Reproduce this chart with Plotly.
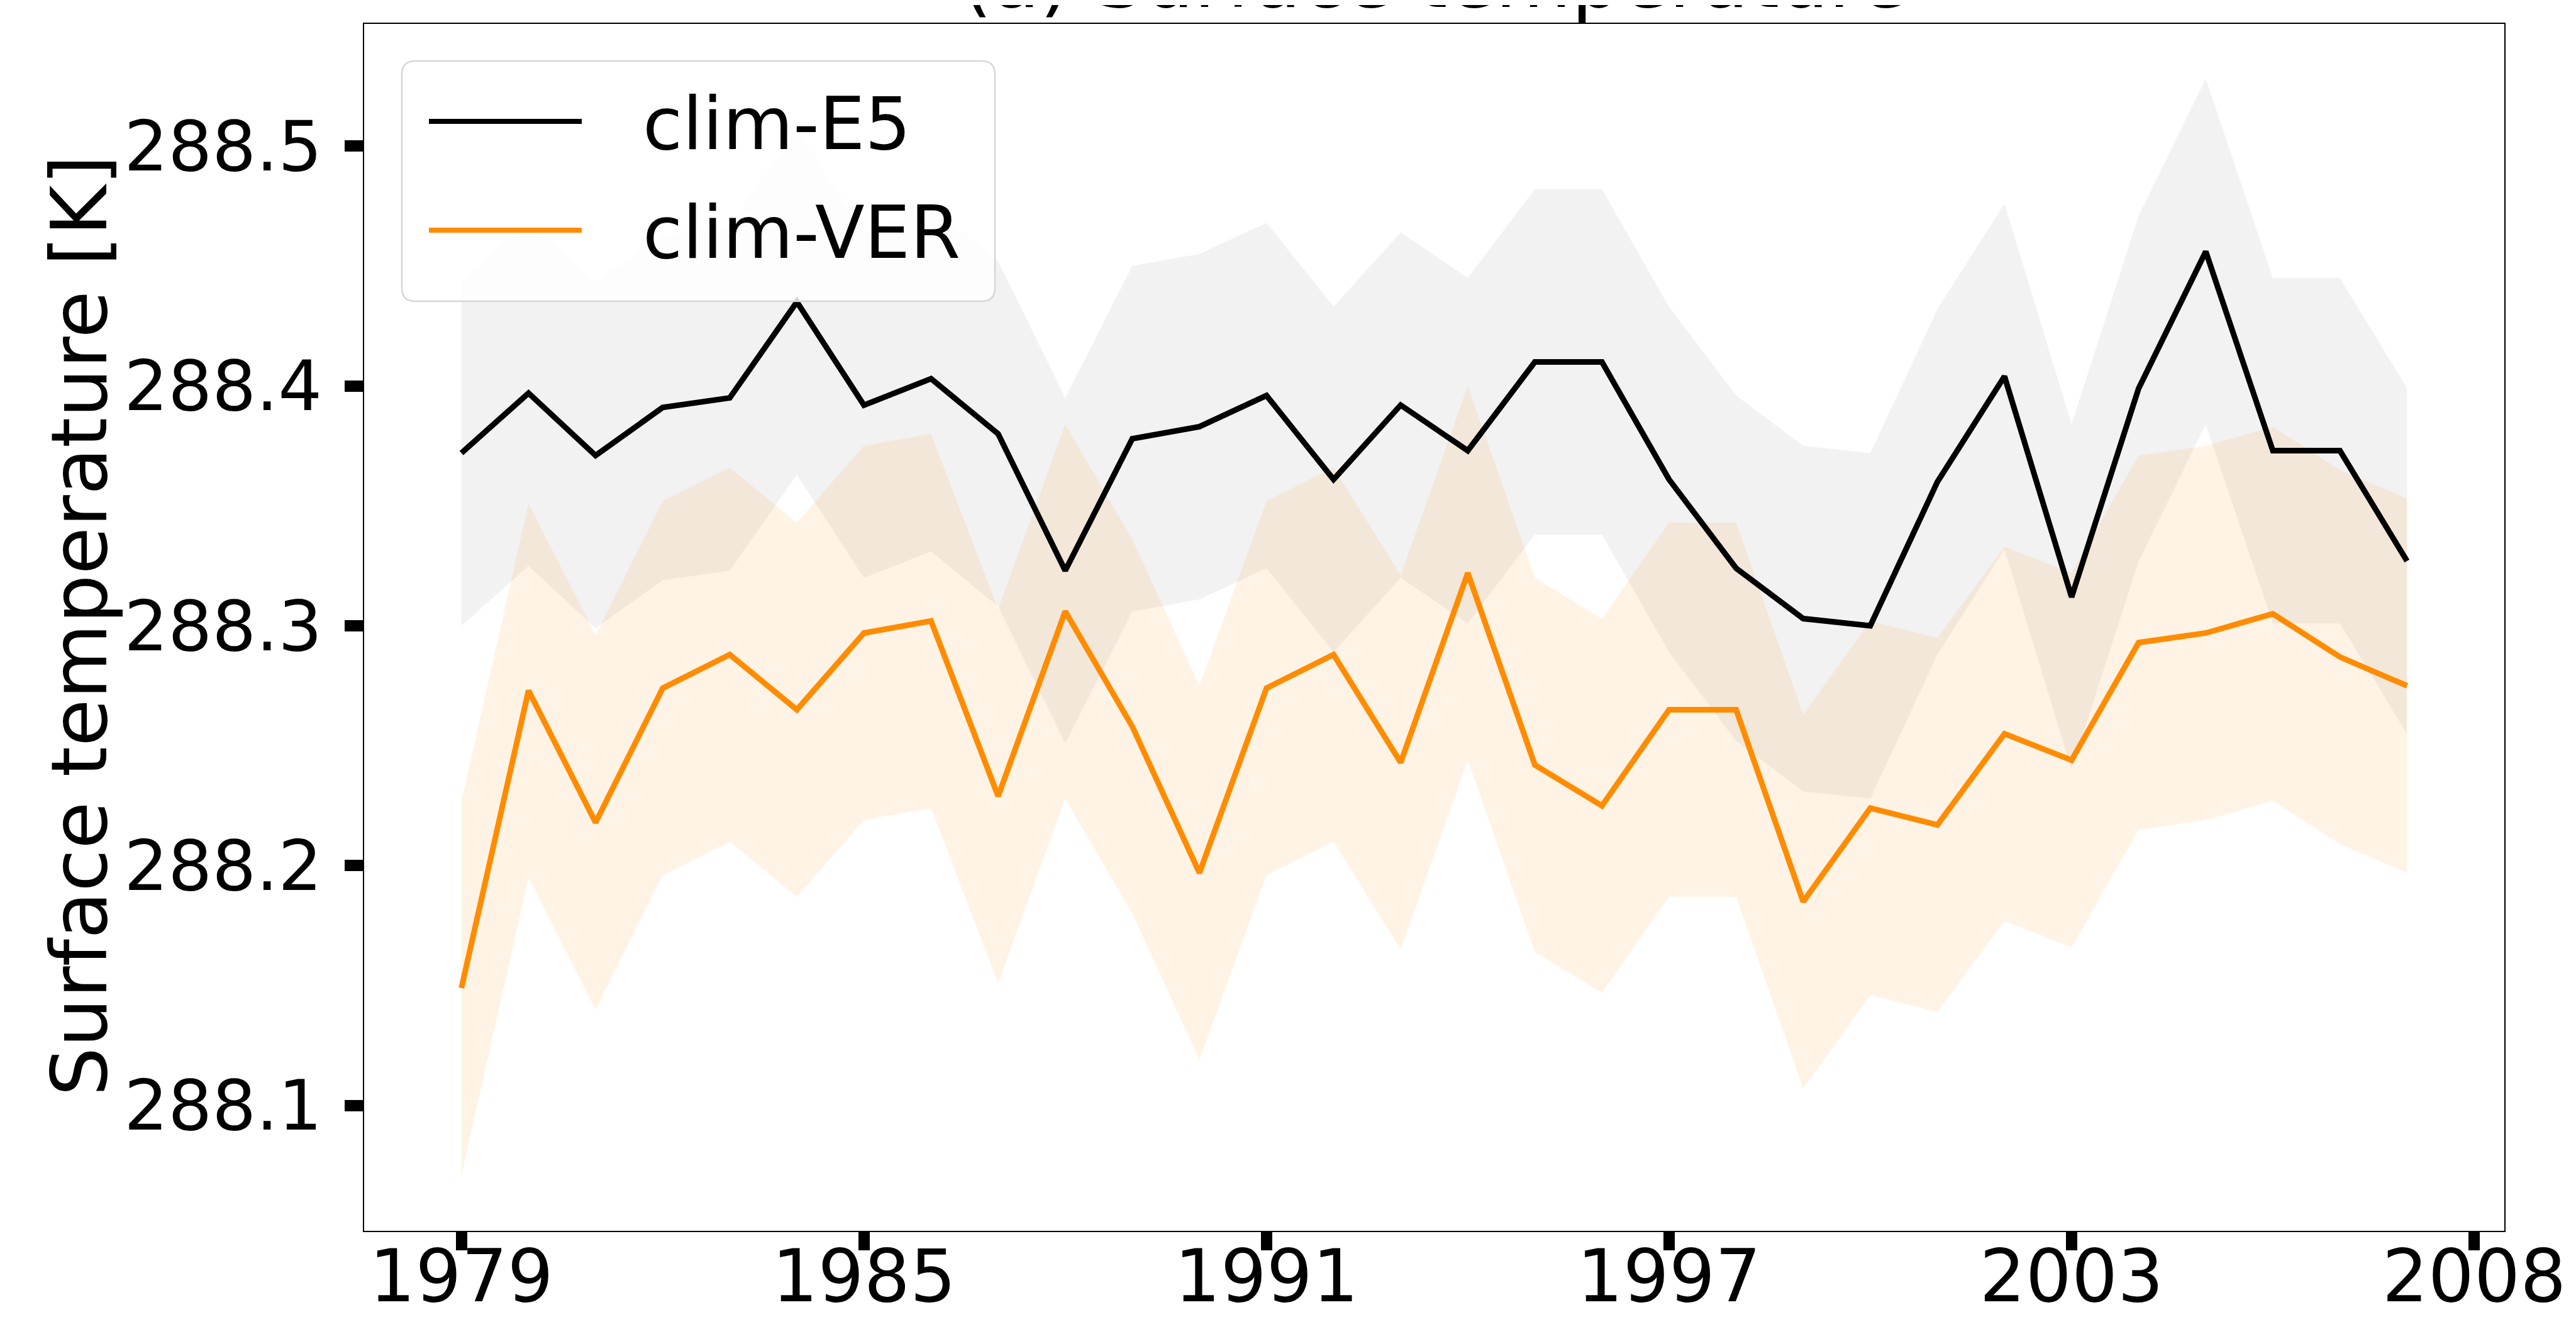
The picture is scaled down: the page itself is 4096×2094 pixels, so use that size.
import plotly.graph_objects as go

# ---------------- data ----------------
years = list(range(1979, 2009))

e5_mean = [288.372, 288.397, 288.371, 288.391, 288.395, 288.435, 288.392, 288.403, 288.380, 288.323,
           288.378, 288.383, 288.396, 288.361, 288.392, 288.373, 288.410, 288.410, 288.361, 288.324,
           288.303, 288.300, 288.360, 288.404, 288.312, 288.399, 288.456, 288.373, 288.373, 288.327]
e5_lo = [288.300, 288.325, 288.299, 288.319, 288.323, 288.363, 288.320, 288.331, 288.308, 288.251,
         288.306, 288.311, 288.324, 288.289, 288.320, 288.301, 288.338, 288.338, 288.289, 288.252,
         288.231, 288.228, 288.288, 288.332, 288.240, 288.327, 288.384, 288.301, 288.301, 288.255]
e5_hi = [288.444, 288.469, 288.443, 288.463, 288.467, 288.507, 288.464, 288.475, 288.452, 288.395,
         288.450, 288.455, 288.468, 288.433, 288.464, 288.445, 288.482, 288.482, 288.433, 288.396,
         288.375, 288.372, 288.432, 288.476, 288.384, 288.471, 288.528, 288.445, 288.445, 288.399]

ver_mean = [288.149, 288.273, 288.218, 288.274, 288.288, 288.265, 288.297, 288.302, 288.229, 288.306,
            288.258, 288.197, 288.274, 288.288, 288.243, 288.322, 288.242, 288.225, 288.265, 288.265,
            288.185, 288.224, 288.217, 288.255, 288.244, 288.293, 288.297, 288.305, 288.287, 288.275]
ver_lo = [288.071, 288.195, 288.140, 288.196, 288.210, 288.187, 288.219, 288.224, 288.151, 288.228,
          288.180, 288.119, 288.196, 288.210, 288.165, 288.244, 288.164, 288.147, 288.187, 288.187,
          288.107, 288.146, 288.139, 288.177, 288.166, 288.215, 288.219, 288.227, 288.209, 288.197]
ver_hi = [288.227, 288.351, 288.296, 288.352, 288.366, 288.343, 288.375, 288.380, 288.307, 288.384,
          288.336, 288.275, 288.352, 288.366, 288.321, 288.400, 288.320, 288.303, 288.343, 288.343,
          288.263, 288.302, 288.295, 288.333, 288.322, 288.371, 288.375, 288.383, 288.365, 288.353]

x_tick_vals = [1979, 1985, 1991, 1997, 2003, 2009]
x_tick_text = ["1979", "1985", "1991", "1997", "2003", "2008"]
y_tick_vals = [288.1, 288.2, 288.3, 288.4, 288.5]
y_tick_text = ["288.1", "288.2", "288.3", "288.4", "288.5"]

series_names = ["clim-E5", "clim-VER"]
title_text = "(a) Surface temperature"
ylabel_text = "Surface temperature [K]"
next_panel_label = "Relative humidity [-]"

# ---------------- layout geometry (px) ----------------
W, H = 4096, 2094
L, R, T, B = 571, 122, 30, 145
PW, PH = W - L - R, H - T - B
FONT = "DejaVu Sans"
FS_YTICK = 110
FS_XTICK = 115
FS_LEG = 115
FS_LABEL = 123


def px2x(px):
    return (px - L) / PW


def px2y(py):
    return 1 - (py - T) / PH


C_E5 = "black"
C_VER = "#ff8c00"
LW = 9

fig = go.Figure()

fig.add_trace(go.Scatter(
    x=years + years[::-1], y=e5_hi + e5_lo[::-1], fill="toself",
    fillcolor="rgba(128,128,128,0.1)", line=dict(width=0), mode="lines",
    hoverinfo="skip", showlegend=False))
fig.add_trace(go.Scatter(
    x=years + years[::-1], y=ver_hi + ver_lo[::-1], fill="toself",
    fillcolor="rgba(255,140,0,0.1)", line=dict(width=0), mode="lines",
    hoverinfo="skip", showlegend=False))
fig.add_trace(go.Scatter(x=years, y=e5_mean, mode="lines", name=series_names[0],
                         line=dict(color=C_E5, width=LW), showlegend=False))
fig.add_trace(go.Scatter(x=years, y=ver_mean, mode="lines", name=series_names[1],
                         line=dict(color=C_VER, width=LW), showlegend=False))

axis_common = dict(
    showline=True, linecolor="black", linewidth=1.5, mirror=True,
    ticks="outside", ticklen=29, tickwidth=18, tickcolor="black",
    showgrid=False, zeroline=False,
)

fig.update_xaxes(range=[1977.55, 2009.45], tickvals=x_tick_vals, ticktext=x_tick_text,
                 ticklabelstandoff=-57, tickfont=dict(family=FONT, size=FS_XTICK, color="black"),
                 **axis_common)
fig.update_yaxes(range=[288.0478, 288.5509], tickvals=y_tick_vals, ticktext=y_tick_text,
                 ticklabelstandoff=14, tickfont=dict(family=FONT, size=FS_YTICK, color="black"),
                 **axis_common)

# ---------------- manual legend ----------------
bx0, bx1, by0, by1 = 631, 1574, 89, 471
rad = 21
x0, x1 = px2x(bx0), px2x(bx1)
yt, yb = px2y(by0), px2y(by1)
rx, ry = rad / PW, rad / PH
path = (f"M {x0+rx},{yt} L {x1-rx},{yt} Q {x1},{yt} {x1},{yt-ry} "
        f"L {x1},{yb+ry} Q {x1},{yb} {x1-rx},{yb} "
        f"L {x0+rx},{yb} Q {x0},{yb} {x0},{yb+ry} "
        f"L {x0},{yt-ry} Q {x0},{yt} {x0+rx},{yt} Z")
shapes = [dict(type="path", path=path, xref="paper", yref="paper",
               fillcolor="rgba(255,255,255,0.8)", line=dict(color="#d6d6d6", width=2.5),
               layer="above")]
rows_y = [185, 358]
for ry_px, col in zip(rows_y, [C_E5, C_VER]):
    shapes.append(dict(type="line", xref="paper", yref="paper",
                       x0=px2x(674), x1=px2x(917), y0=px2y(ry_px), y1=px2y(ry_px),
                       line=dict(color=col, width=8), layer="above"))

annotations = []
for ry_px, name in zip(rows_y, series_names):
    annotations.append(dict(text=name, xref="paper", yref="paper", x=px2x(1012), y=px2y(ry_px + 4),
                            xanchor="left", yanchor="middle", showarrow=False,
                            font=dict(family=FONT, size=FS_LEG, color="black")))

# y-axis title
annotations.append(dict(text=ylabel_text, xref="paper", yref="paper", x=px2x(118), y=px2y(987),
                        xanchor="center", yanchor="middle", textangle=-90, showarrow=False,
                        font=dict(family=FONT, size=FS_LABEL, color="black")))
# title (mostly cut off at the top in the reference)
annotations.append(dict(text=title_text, xref="paper", yref="paper", x=0.5, y=px2y(-40),
                        xanchor="center", yanchor="middle", showarrow=False,
                        font=dict(family=FONT, size=124, color="black")))
# label of the neighbouring panel, cut at the right edge
annotations.append(dict(text=next_panel_label, xref="paper", yref="paper", x=px2x(4128), y=px2y(993),
                        xanchor="center", yanchor="middle", textangle=-90, showarrow=False,
                        font=dict(family=FONT, size=FS_LEG, color="black")))

fig.update_layout(
    width=W, height=H, margin=dict(l=L, r=R, t=T, b=B, autoexpand=False),
    plot_bgcolor="white", paper_bgcolor="white",
    shapes=shapes, annotations=annotations, showlegend=False,
    font=dict(family=FONT, color="black"),
)

fig.write_html("out.html")
